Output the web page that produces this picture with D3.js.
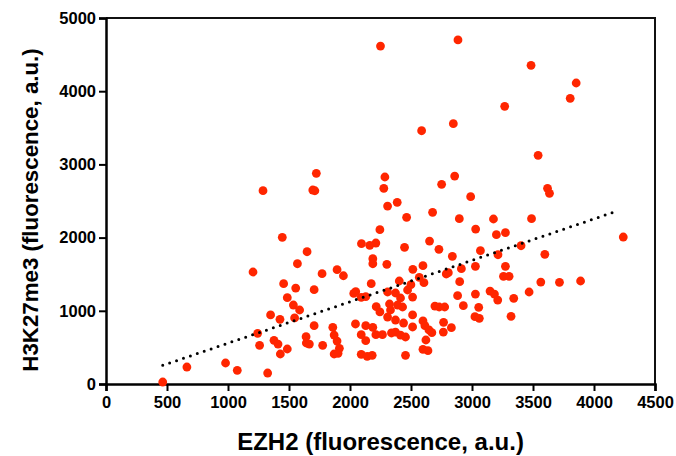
<!DOCTYPE html>
<html>
<head>
<meta charset="utf-8">
<script src="https://cdn.jsdelivr.net/npm/d3@7"></script>
<style>
  body { margin: 0; background: #fff; }
  svg { display: block; }
  text { font-family: "Liberation Sans", Arial, sans-serif; font-weight: bold; fill: #000; }
</style>
</head>
<body>
<div id="chart"></div>
<script>
// EZH2 vs H3K27me3
const ezh2 = [
  2250, 2885, 3484, 3854, 3805, 3268, 2847, 2587, 3542, 1287,
  1724, 1695, 1712, 2286, 2277, 2751, 2858, 2989, 3619, 3635,
  1445, 1569, 1205, 1456, 1555, 1486, 1536, 1587, 1546, 1349,
  1426, 1243, 1259, 1377, 1410, 1486, 1429, 980, 663, 1076,
  1325, 465, 2308, 2387, 2245, 2094, 2162, 2212, 2187, 2187,
  2302, 1648, 1771, 1894, 1946, 1706, 2047, 2031, 2174, 2092,
  2129, 2215, 2245, 1706, 1859, 1870, 1894, 1913, 1870, 1902,
  1640, 1642, 1667, 1776, 2045, 2092, 2129, 2129, 2187, 2092,
  2141, 2182, 2212, 2266, 2464, 2677, 2896, 3176, 3030, 3200,
  2447, 2652, 2729, 3069, 2839, 3213, 2598, 2515, 2913, 3028,
  2806, 2789, 2568, 2606, 2404, 2499, 2899, 3148, 3184, 3211,
  2882, 3028, 2929, 3055, 3024, 3060, 2696, 2731, 2776, 2767,
  2831, 2765, 2598, 2614, 2647, 2671, 2622, 2598, 2639, 2455,
  2308, 2373, 2472, 2513, 2414, 2332, 2431, 2513, 2308, 2373,
  2439, 2513, 2373, 2414, 2455, 2324, 2390, 2340, 3488, 3274,
  3402, 4240, 3597, 3274, 3258, 3304, 3564, 3717, 3890, 3342,
  3468, 3320
];
const h3k27me3 = [
  4617, 4700, 4353, 4112, 3903, 3793, 3556, 3460, 3124, 2641,
  2878, 2650, 2640, 2828, 2673, 2728, 2841, 2559, 2673, 2605,
  2004, 1643, 1530, 1370, 1311, 1179, 1079, 1011, 902, 943,
  884, 692, 528, 597, 546, 478, 410, 287, 232, 187,
  150, 27, 2431, 2482, 2108, 1917, 1894, 1926, 1712, 1643,
  1635, 1807, 1507, 1562, 1479, 1288, 1261, 1238, 1370, 1184,
  1193, 1056, 984, 797, 774, 669, 587, 487, 410, 419,
  646, 560, 546, 528, 820, 674, 797, 592, 774, 405,
  378, 392, 674, 674, 2277, 2345, 2258, 2254, 2117, 2040,
  1867, 1953, 1840, 1821, 1744, 1766, 1616, 1567, 1575, 1608,
  1520, 1503, 1457, 1384, 1407, 1357, 1398, 1270, 1229, 1147,
  1206, 1229, 1070, 1047, 920, 897, 1065, 1052, 1052, 843,
  769, 710, 861, 797, 738, 701, 601, 474, 455, 392,
  1257, 1243, 1284, 1188, 1175, 1011, 1052, 943, 915, 874,
  833, 779, 710, 669, 642, 1093, 1079, 697, 2258, 2067,
  1889, 2008, 1772, 1608, 1471, 1471, 1393, 1389, 1407, 1171,
  1257, 925
];
// dotted fit line as drawn in the picture (end points)
const fitX = [465, 4190];
const fitY = [255, 2363];
const xTicks = [0, 500, 1000, 1500, 2000, 2500, 3000, 3500, 4000, 4500];
const yTicks = [0, 1000, 2000, 3000, 4000, 5000];
const xTitle = "EZH2 (fluorescence, a.u.)";
const yTitle = "H3K27me3 (fluorescence, a.u.)";

const width = 676, height = 456;
const points = ezh2.map((d, i) => ({x: d, y: h3k27me3[i]}));

const x = d3.scaleLinear().domain([0, 4500]).range([106, 655]);
const y = d3.scaleLinear().domain([0, 5000]).range([384, 18]);

const svg = d3.select("#chart").append("svg")
    .attr("width", width)
    .attr("height", height);

// frame (top + right)
svg.append("path")
    .attr("d", `M${x(0)},${y(5000)}H${x(4500)}V${y(0)}`)
    .attr("fill", "none")
    .attr("stroke", "#111")
    .attr("stroke-width", 2);

// x axis
const xAxis = svg.append("g").attr("transform", `translate(0,${y(0)})`);
xAxis.call(d3.axisBottom(x).tickValues(d3.range(0, 4501, 125)).tickSize(4).tickFormat(""))
xAxis.call(d3.axisBottom(x).tickValues(xTicks).tickSize(7).tickFormat(d3.format("d")))
xAxis.selectAll(".domain").attr("stroke-width", 2.5).attr("stroke", "#000");
xAxis.selectAll(".tick line").attr("stroke-width", 2).attr("stroke", "#000");
xAxis.selectAll("text").attr("font-size", 16.5).attr("dy", "0.85em");

// y axis
const yAxis = svg.append("g").attr("transform", `translate(${x(0)},0)`);
yAxis.call(d3.axisLeft(y).tickValues(d3.range(0, 5001, 200)).tickSize(4).tickFormat(""))
yAxis.call(d3.axisLeft(y).tickValues(yTicks).tickSize(7).tickFormat(d3.format("d")))
yAxis.selectAll(".domain").attr("stroke-width", 2.5).attr("stroke", "#000");
yAxis.selectAll(".tick line").attr("stroke-width", 2).attr("stroke", "#000");
yAxis.selectAll("text").attr("font-size", 16.5);
svg.selectAll(".tick text").style("font-family", "Liberation Sans, Arial, sans-serif").style("font-weight", "bold");

// points
svg.append("g")
  .selectAll("circle")
  .data(points)
  .join("circle")
    .attr("cx", d => x(d.x))
    .attr("cy", d => y(d.y))
    .attr("r", 4.4)
    .attr("fill", "#ff2600");

// fit line, dotted
svg.append("line")
    .attr("x1", x(fitX[0])).attr("y1", y(fitY[0]))
    .attr("x2", x(fitX[1])).attr("y2", y(fitY[1]))
    .attr("stroke", "#000")
    .attr("stroke-width", 3)
    .attr("stroke-linecap", "round")
    .attr("stroke-dasharray", "0,7.3");

// titles
svg.append("text")
    .attr("x", (x(0) + x(4500)) / 2)
    .attr("y", 450)
    .attr("text-anchor", "middle")
    .attr("font-size", 24)
    .text(xTitle);

svg.append("text")
    .attr("transform", `translate(38,210) rotate(-90)`)
    .attr("text-anchor", "middle")
    .attr("font-size", 22.3)
    .text(yTitle);
</script>
</body>
</html>
